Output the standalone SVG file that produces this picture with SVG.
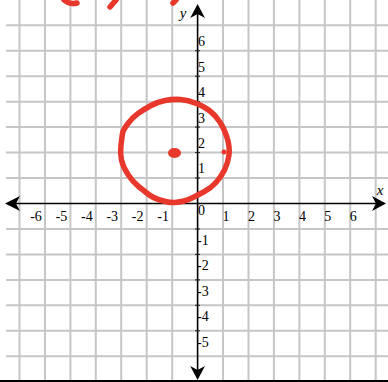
<svg xmlns="http://www.w3.org/2000/svg" width="388" height="382" viewBox="0 0 388 382">
<style>
.grid line{stroke:#c6c6c6;stroke-width:2}
.axis{stroke:#000;stroke-width:1.6;fill:none}
.tick{stroke:#222;stroke-width:1}
.arrow{fill:#000}
text{font-family:"Liberation Serif","Times New Roman",serif;font-size:14px;fill:#000}
.lab{font-style:italic;font-size:15px}
.red{stroke:#e8372b;stroke-width:5.5;fill:none;stroke-linecap:round;stroke-linejoin:round}
</style>
<rect width="388" height="382" fill="#fff"/>
<g id="grid" class="grid">
<line x1="19.5" y1="0" x2="19.5" y2="380"/>
<line x1="45" y1="0" x2="45" y2="380"/>
<line x1="70.4" y1="0" x2="70.4" y2="380"/>
<line x1="95.8" y1="0" x2="95.8" y2="380"/>
<line x1="121.2" y1="0" x2="121.2" y2="380"/>
<line x1="146.7" y1="0" x2="146.7" y2="380"/>
<line x1="172.2" y1="0" x2="172.2" y2="380"/>
<line x1="223" y1="0" x2="223" y2="380"/>
<line x1="248.5" y1="0" x2="248.5" y2="380"/>
<line x1="273.9" y1="0" x2="273.9" y2="380"/>
<line x1="299.4" y1="0" x2="299.4" y2="380"/>
<line x1="324.8" y1="0" x2="324.8" y2="380"/>
<line x1="350.2" y1="0" x2="350.2" y2="380"/>
<line x1="375.7" y1="0" x2="375.7" y2="380"/>
<line x1="6" y1="25.3" x2="388" y2="25.3"/>
<line x1="6" y1="50.7" x2="388" y2="50.7"/>
<line x1="6" y1="76.2" x2="388" y2="76.2"/>
<line x1="6" y1="101.7" x2="388" y2="101.7"/>
<line x1="6" y1="127.1" x2="388" y2="127.1"/>
<line x1="6" y1="152.6" x2="388" y2="152.6"/>
<line x1="6" y1="178" x2="388" y2="178"/>
<line x1="6" y1="229" x2="388" y2="229"/>
<line x1="6" y1="254.4" x2="388" y2="254.4"/>
<line x1="6" y1="279.9" x2="388" y2="279.9"/>
<line x1="6" y1="305.3" x2="388" y2="305.3"/>
<line x1="6" y1="330.8" x2="388" y2="330.8"/>
<line x1="6" y1="356.3" x2="388" y2="356.3"/>
</g>
<g id="axes">
<line class="axis" x1="10" y1="203.5" x2="382" y2="203.5"/>
<line class="axis" x1="197.6" y1="10" x2="197.6" y2="376"/>
<line x1="0" y1="381" x2="388" y2="381" stroke="#000" stroke-width="2"/>
<g class="tick">
<line x1="195" y1="50.7" x2="200" y2="50.7"/>
<line x1="195" y1="76.2" x2="200" y2="76.2"/>
<line x1="195" y1="101.7" x2="200" y2="101.7"/>
<line x1="195" y1="127.1" x2="200" y2="127.1"/>
<line x1="195" y1="152.6" x2="200" y2="152.6"/>
<line x1="195" y1="178" x2="200" y2="178"/>
<line x1="195" y1="229" x2="200" y2="229"/>
<line x1="195" y1="254.4" x2="200" y2="254.4"/>
<line x1="195" y1="279.9" x2="200" y2="279.9"/>
<line x1="195" y1="305.3" x2="200" y2="305.3"/>
<line x1="195" y1="330.8" x2="200" y2="330.8"/>
</g>
<polygon class="arrow" points="197.6,4 205,18 197.6,14 190.2,18"/>
<polygon class="arrow" points="197.6,380 205,366 197.6,370 190.2,366"/>
<polygon class="arrow" points="5,203.5 20,196 16,203.5 20,211"/>
<polygon class="arrow" points="386,203.5 372,196 376,203.5 372,211"/>
</g>
<g id="labels">
<text class="lab" x="183" y="18" text-anchor="middle">y</text>
<text class="lab" x="380" y="195" text-anchor="middle">x</text>
<g text-anchor="middle">
<text x="36" y="220.5">-6</text>
<text x="61.5" y="220.5">-5</text>
<text x="86.9" y="220.5">-4</text>
<text x="112.3" y="220.5">-3</text>
<text x="137.7" y="220.5">-2</text>
<text x="163.2" y="220.5">-1</text>
<text x="226" y="220.5">1</text>
<text x="251.5" y="220.5">2</text>
<text x="276.9" y="220.5">3</text>
<text x="302.4" y="220.5">4</text>
<text x="327.8" y="220.5">5</text>
<text x="353.2" y="220.5">6</text>
<text x="201.5" y="46">6</text>
<text x="201.5" y="71.5">5</text>
<text x="201.5" y="97">4</text>
<text x="201.5" y="122.5">3</text>
<text x="201.5" y="148">2</text>
<text x="201.5" y="173">1</text>
</g>
<text x="198" y="215">0</text>
<text x="197" y="245">-1</text>
<text x="197" y="270.4">-2</text>
<text x="197" y="295.9">-3</text>
<text x="197" y="321.3">-4</text>
<text x="197" y="346.8">-5</text>
</g>
<g id="sketch">
<path class="red" d="M128,123.5 Q133,117 138,113.5 Q143,110 150,106 Q157,102 165,100.5 Q173,99 180.5,99.5 Q188,100 196.5,103.5 Q205,107 210,111 Q215,115 219.5,121.5 Q224,128 227,137.5 Q230,147 229,155 Q228,163 224.5,170 Q221,177 216,182.5 Q211,188 204.5,191.5 Q198,195 193,197.5 Q188,200 184,201 Q180,202 175,202.5 Q170,203 161.5,200.5 Q153,198 148,194 Q143,190 138,186 Q133,182 128,174.5 Q123,167 121.5,160 Q120,153 121,145 Q122,137 122.5,133.5 Q123,130 128,123.5 Z"/>
<ellipse cx="174.5" cy="153" rx="6.5" ry="5" fill="#e8372b"/>
<circle cx="224" cy="152" r="2.5" fill="#e8372b"/>
<path class="red" d="M64,0 Q70,5 77,3"/>
<path class="red" d="M110,7 L116,0"/>
<path class="red" d="M173,3 L176,0"/>
</g>
</svg>
